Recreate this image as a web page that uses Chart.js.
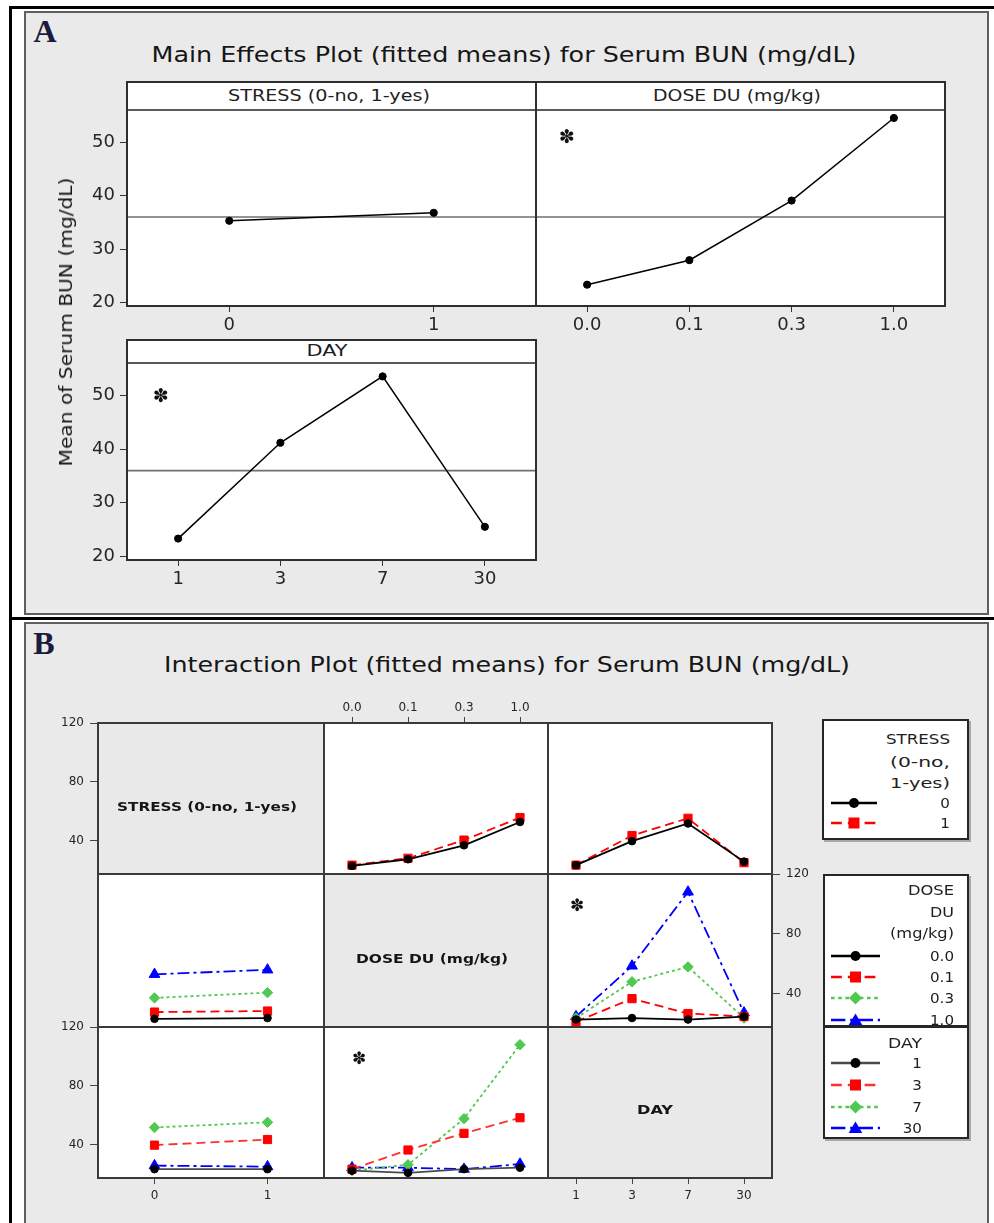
<!DOCTYPE html>
<html>
<head>
<meta charset="utf-8">
<title>Serum BUN: main effects and interactions</title>
<script src="https://cdn.jsdelivr.net/npm/chart.js@4.4.1/dist/chart.umd.min.js"></script>
<style>
  html, body { margin: 0; padding: 0; background: #fff; }
  #page { position: relative; width: 994px; height: 1223px; overflow: hidden; background: #fff; }
  canvas { display: block; }
</style>
</head>
<body>
<div id="page"></div>
<script>
// ---- Factor levels (category tick labels) ----
const stressLevels = ['0', '1'];
const doseLevels = ['0.0', '0.1', '0.3', '1.0'];
const dayLevels = ['1', '3', '7', '30'];

// ---- Main effects: fitted mean serum BUN (mg/dL) per level ----
const bunByStress = [35.3, 36.8];
const bunByDose = [23.3, 27.9, 39.1, 54.6];
const bunByDay = [23.3, 41.2, 53.6, 25.5];
const bunGrandMean = 36.0;

// ---- Two-way fitted means (mg/dL) ----
const bunStress0ByDose = [23.0, 27.5, 37.0, 52.8];
const bunStress1ByDose = [23.5, 28.2, 40.5, 55.8];
const bunStress0ByDay = [23.5, 39.8, 51.8, 25.9];
const bunStress1ByDay = [23.5, 43.6, 55.3, 25.2];
const bunDose00ByDay = [22.5, 23.5, 22.5, 24.5];
const bunDose01ByDay = [21.0, 36.5, 26.5, 24.5];
const bunDose03ByDay = [23.5, 47.8, 57.8, 23.5];
const bunDose10ByDay = [24.5, 58.4, 108.0, 27.0];

// ---- Axis ticks ----
const mainEffectTicks = [20, 30, 40, 50];
const interactionTicks = [40, 80, 120];

// Each interaction appears twice in the matrix, once per orientation
const stressByDose = [bunStress0ByDose, bunStress1ByDose];
const stressByDay = [bunStress0ByDay, bunStress1ByDay];
const doseByDay = [bunDose00ByDay, bunDose01ByDay, bunDose03ByDay, bunDose10ByDay];
const transpose = (rows, n) => Array.from({ length: n }, (_, j) => rows.map(r => r[j]));
const doseByStress = transpose(stressByDose, doseLevels.length);
const dayByStress = transpose(stressByDay, dayLevels.length);
const dayByDose = transpose(doseByDay, dayLevels.length);

// ---- Series styles ----
const GREEN = '#4fc94f';
const stressStyles = [
  { color: '#000000', dash: [], marker: 'circle', r: 3.8 },
  { color: '#ff0000', dash: [9, 5], marker: 'rect', r: 5.8 }
];
const doseStyles = [
  { color: '#000000', dash: [], marker: 'circle', r: 3.8 },
  { color: '#ff0000', dash: [9, 5], marker: 'rect', r: 5.8 },
  { color: GREEN, dash: [3, 3], marker: 'rectRot', r: 5.2 },
  { color: '#0000ff', dash: [12, 4, 3, 4], marker: 'triangle', r: 6.2 }
];
const dayStyles = [
  { color: '#000000', line: '#4a4a4a', dash: [], marker: 'circle', r: 3.8 },
  { color: '#ff0000', line: '#ff3030', dash: [9, 5], marker: 'rect', r: 5.8 },
  { color: GREEN, dash: [3, 3], marker: 'rectRot', r: 5.2 },
  { color: '#0000ff', dash: [12, 4, 3, 4], marker: 'triangle', r: 6.2 }
];
const mainStyle = [{ color: '#000000', dash: [], marker: 'circle', r: 3.6 }];

const FONT = '"DejaVu Sans", "Liberation Sans", sans-serif';
const PANEL_GRAY = '#eaeaea';
const page = document.getElementById('page');
Chart.defaults.font.family = FONT;

// ---- small DOM helpers ----
function rect(x, y, w, h, css) {
  const d = document.createElement('div');
  d.style.cssText = `position:absolute;left:${x}px;top:${y}px;width:${w}px;height:${h}px;box-sizing:border-box;${css || ''}`;
  page.appendChild(d);
  return d;
}
function hline(x1, x2, y, lw, color) { rect(x1 - lw / 2, y - lw / 2, x2 - x1 + lw, lw, `background:${color}`); }
function vline(x, y1, y2, lw, color) { rect(x - lw / 2, y1 - lw / 2, lw, y2 - y1 + lw, `background:${color}`); }

// Text placed by its centre (or right/left edge), optionally stretched to a width
function label(str, o) {
  const s = document.createElement('span');
  s.textContent = str;
  s.style.cssText = 'position:absolute;left:0;top:0;white-space:nowrap;line-height:1;transform-origin:0 0;' +
    `font-family:${o.family || FONT};font-size:${o.size}px;font-weight:${o.weight || 400};color:${o.color || '#1e1e1e'};`;
  page.appendChild(s);
  const bb = s.getBoundingClientRect();
  const w0 = bb.width, h0 = bb.height;
  const sx = o.fit ? o.fit / w0 : (o.sx || 1);
  const w = w0 * sx;
  let cx = o.x;
  if (o.align === 'right') cx = o.x - w / 2;
  if (o.align === 'left') cx = o.x + w / 2;
  s.style.transform = `translate(${cx}px, ${o.y}px) rotate(${o.rot || 0}deg) scale(${sx}, 1) translate(${-w0 / 2}px, ${-h0 / 2}px)`;
  return s;
}

// ---- Chart.js plugin: cell fill, grand-mean reference line, significance mark ----
const cellDecor = {
  id: 'cellDecor',
  beforeDraw(chart, args, o) {
    const { ctx, chartArea: a } = chart;
    ctx.save();
    ctx.fillStyle = o.fill || '#ffffff';
    ctx.fillRect(a.left, a.top, a.right - a.left, a.bottom - a.top);
    ctx.restore();
  },
  beforeDatasetsDraw(chart, args, o) {
    if (o.ref == null) return;
    const { ctx, chartArea: a } = chart;
    const y = chart.scales.y.getPixelForValue(o.ref);
    ctx.save();
    ctx.strokeStyle = '#6f6f6f';
    ctx.lineWidth = 1.6;
    ctx.beginPath();
    ctx.moveTo(a.left, y);
    ctx.lineTo(a.right, y);
    ctx.stroke();
    ctx.restore();
  },
  afterDraw(chart, args, o) {
    if (!o.star) return;
    const { ctx, chartArea: a } = chart;
    ctx.save();
    ctx.fillStyle = '#111';
    ctx.font = `${o.star[2]}px ${FONT}`;
    ctx.textAlign = 'center';
    ctx.textBaseline = 'middle';
    ctx.fillText('\u273D', a.left + o.star[0], a.top + o.star[1]);
    ctx.restore();
  }
};

function lineDataset(values, s, lw) {
  return {
    data: values,
    borderColor: s.line || s.color,
    backgroundColor: s.color,
    borderWidth: lw,
    borderDash: s.dash,
    pointStyle: s.marker,
    pointRadius: s.r,
    pointBorderWidth: 1,
    pointBackgroundColor: s.color,
    pointBorderColor: s.color,
    tension: 0,
    fill: false
  };
}

// One chart per panel cell; the chart area is pinned to the cell rectangle
function cell(spec) {
  const M = 18;
  const t = spec.tick;
  const axW = spec.yAxis ? t.axW : 0;
  const axH = spec.xAxis ? t.axH : 0;
  const padL = M + (spec.yAxis === 'left' ? axW : 0);
  const padR = M + (spec.yAxis === 'right' ? axW : 0);
  const padT = M + (spec.xAxis === 'top' ? axH : 0);
  const padB = M + (spec.xAxis === 'bottom' ? axH : 0);
  const W = spec.w + padL + padR, H = spec.h + padT + padB;
  const cv = document.createElement('canvas');
  cv.width = W; cv.height = H;
  cv.style.cssText = `position:absolute;left:${spec.x - padL}px;top:${spec.y - padT}px;width:${W}px;height:${H}px;`;
  page.appendChild(cv);
  return new Chart(cv.getContext('2d'), {
    type: 'line',
    data: {
      labels: spec.labels,
      datasets: (spec.series || []).map((vals, i) => lineDataset(vals, spec.styles[i], spec.lineWidth))
    },
    options: {
      responsive: false,
      animation: false,
      devicePixelRatio: 1,
      events: [],
      layout: { padding: M },
      plugins: {
        legend: { display: false },
        tooltip: { enabled: false },
        cellDecor: { fill: spec.fill, ref: spec.ref, star: spec.star }
      },
      scales: {
        x: {
          type: 'category',
          offset: true,
          display: !!spec.xAxis,
          position: spec.xAxis || 'bottom',
          border: { display: false },
          grid: { display: true, offset: false, drawOnChartArea: false, drawTicks: true,
                  tickLength: t.xTick, color: t.mark, lineWidth: 1 },
          ticks: { font: { family: FONT, size: t.size }, color: t.text,
                   padding: spec.xAxis === 'top' ? t.xPadTop : t.xPad, autoSkip: false, maxRotation: 0 },
          afterFit: s => { s.height = axH; }
        },
        y: {
          type: 'linear',
          min: spec.yMin,
          max: spec.yMax,
          display: !!spec.yAxis,
          position: spec.yAxis || 'left',
          border: { display: false },
          grid: { display: true, drawOnChartArea: false, drawTicks: true,
                  tickLength: t.yTick, color: t.mark, lineWidth: 1 },
          ticks: { font: { family: FONT, size: t.size }, color: t.text, padding: t.yPad },
          afterBuildTicks: s => { s.ticks = spec.yTicks.map(v => ({ value: v })); },
          afterFit: s => { s.width = axW; }
        }
      }
    },
    plugins: [cellDecor]
  });
}

// ---------------- frame ----------------
rect(24, 11, 965, 604, `background:${PANEL_GRAY};border:2px solid #5e5e5e;`);
rect(24, 622, 965, 620, `background:${PANEL_GRAY};border:2px solid #5e5e5e;`);
rect(9, 6, 985, 3, 'background:#000');
rect(9, 6, 3, 1217, 'background:#000');
rect(9, 617, 985, 3, 'background:#000');

// ---------------- Panel A: main effects ----------------
const tickA = { size: 18, text: '#262626', mark: '#333', axW: 60, axH: 32, xTick: 6, xPad: 3, xPadTop: 2, yTick: 7, yPad: 5 };
const yA = { yMin: 19.3, yMax: 56.1, yTicks: mainEffectTicks };

cell(Object.assign({ x: 127, y: 110, w: 409, h: 196, labels: stressLevels, series: [bunByStress], styles: mainStyle,
  lineWidth: 1.5, xAxis: 'bottom', yAxis: 'left', ref: bunGrandMean, tick: tickA }, yA));
cell(Object.assign({ x: 536, y: 110, w: 409, h: 196, labels: doseLevels, series: [bunByDose], styles: mainStyle,
  lineWidth: 1.5, xAxis: 'bottom', ref: bunGrandMean, star: [31, 28, 19], tick: tickA }, yA));
cell(Object.assign({ x: 127, y: 363, w: 409, h: 197, labels: dayLevels, series: [bunByDay], styles: mainStyle,
  lineWidth: 1.5, xAxis: 'bottom', yAxis: 'left', ref: bunGrandMean, star: [34, 34, 19], tick: tickA }, yA));

// strips and frames of panel A
rect(127, 82, 818, 28, 'background:#fff');
rect(127, 340, 409, 23, 'background:#fff');
const FRAME = '#2e2e2e';
hline(127, 945, 82, 2, FRAME);
hline(127, 945, 306, 2, FRAME);
hline(127, 945, 110, 2.5, '#5a5a5a');
vline(127, 82, 306, 2, FRAME);
vline(536, 82, 306, 2, FRAME);
vline(945, 82, 306, 2, FRAME);
hline(127, 536, 340, 2, FRAME);
hline(127, 536, 560, 2, FRAME);
hline(127, 536, 363, 2.5, '#5a5a5a');
vline(127, 340, 560, 2, FRAME);
vline(536, 340, 560, 2, FRAME);

label('A', { x: 45, y: 31, size: 32, weight: 700, family: '"Liberation Serif", "DejaVu Serif", serif', color: '#1b1b3d' });
label('Main Effects Plot (fitted means) for Serum BUN (mg/dL)', { x: 504, y: 55, size: 22, fit: 705, color: '#161616' });
label('STRESS (0-no, 1-yes)', { x: 329, y: 96, size: 15, fit: 202 });
label('DOSE DU (mg/kg)', { x: 737, y: 96, size: 15, fit: 168 });
label('DAY', { x: 327, y: 351, size: 15, fit: 41 });
label('Mean of Serum BUN (mg/dL)', { x: 66, y: 322, size: 18, fit: 289, rot: -90, color: '#161616' });

// ---------------- Panel B: interaction matrix ----------------
const colX = [98, 324, 548, 772];
const rowY = [723, 874, 1027, 1178];
const tickB = { size: 12, text: '#262626', mark: '#444', axW: 44, axH: 26, xTick: 6, xPad: 5, xPadTop: 2, yTick: 8, yPad: 6 };
const yB = { yMin: 17.5, yMax: 120, yTicks: interactionTicks };
const LABEL_FILL = '#e9e9e9';

function bCell(r, c, extra) {
  return cell(Object.assign({
    x: colX[c], y: rowY[r], w: colX[c + 1] - colX[c], h: rowY[r + 1] - rowY[r],
    lineWidth: 1.8, tick: tickB
  }, yB, extra));
}

// row 1: STRESS traces
bCell(0, 0, { labels: stressLevels, fill: LABEL_FILL, yAxis: 'left' });
bCell(0, 1, { labels: doseLevels, series: stressByDose, styles: stressStyles, xAxis: 'top' });
bCell(0, 2, { labels: dayLevels, series: stressByDay, styles: stressStyles });
// row 2: DOSE traces
bCell(1, 0, { labels: stressLevels, series: doseByStress, styles: doseStyles });
bCell(1, 1, { labels: doseLevels, fill: LABEL_FILL });
bCell(1, 2, { labels: dayLevels, series: doseByDay, styles: doseStyles, yAxis: 'right', star: [29, 33, 17] });
// row 3: DAY traces
bCell(2, 0, { labels: stressLevels, series: dayByStress, styles: dayStyles, xAxis: 'bottom', yAxis: 'left' });
bCell(2, 1, { labels: doseLevels, series: dayByDose, styles: dayStyles, star: [35, 33, 17] });
bCell(2, 2, { labels: dayLevels, fill: LABEL_FILL, xAxis: 'bottom' });

colX.forEach(x => vline(x, rowY[0], rowY[3], 2, '#3a3a3a'));
rowY.forEach(y => hline(colX[0], colX[3], y, 2, '#3a3a3a'));

label('B', { x: 44, y: 643, size: 32, weight: 700, family: '"Liberation Serif", "DejaVu Serif", serif', color: '#1b1b3d' });
label('Interaction Plot (fitted means) for Serum BUN (mg/dL)', { x: 507, y: 665, size: 22, fit: 686, color: '#161616' });
label('STRESS (0-no, 1-yes)', { x: 207, y: 806, size: 13, weight: 700, fit: 180, color: '#151515' });
label('DOSE DU (mg/kg)', { x: 432, y: 958, size: 13, weight: 700, fit: 152, color: '#151515' });
label('DAY', { x: 655, y: 1109, size: 13, weight: 700, fit: 36, color: '#151515' });

// ---------------- legends ----------------
const SVGNS = 'http://www.w3.org/2000/svg';
function svgEl(tag, attrs) {
  const e = document.createElementNS(SVGNS, tag);
  Object.keys(attrs).forEach(k => e.setAttribute(k, attrs[k]));
  return e;
}
function legendSample(s, x1, x2, y) {
  const pad = 8, h = 20, w = x2 - x1 + 2 * pad;
  const svg = svgEl('svg', { width: w, height: h });
  svg.style.cssText = `position:absolute;left:${x1 - pad}px;top:${y - h / 2}px;overflow:visible;`;
  const cy = h / 2, cx = w / 2;
  svg.appendChild(svgEl('line', { x1: pad, y1: cy, x2: w - pad, y2: cy, stroke: s.line || s.color,
    'stroke-width': 2.6, 'stroke-dasharray': s.dash.length ? s.dash.map(v => v * 1.2).join(' ') : 'none' }));
  const fill = s.color;
  if (s.marker === 'circle') svg.appendChild(svgEl('circle', { cx, cy, r: 5, fill }));
  if (s.marker === 'rect') svg.appendChild(svgEl('rect', { x: cx - 5.5, y: cy - 5.5, width: 11, height: 11, fill }));
  if (s.marker === 'rectRot') svg.appendChild(svgEl('polygon', {
    points: `${cx},${cy - 6.5} ${cx + 6.5},${cy} ${cx},${cy + 6.5} ${cx - 6.5},${cy}`, fill }));
  if (s.marker === 'triangle') svg.appendChild(svgEl('polygon', {
    points: `${cx},${cy - 6.5} ${cx + 6.8},${cy + 5} ${cx - 6.8},${cy + 5}`, fill }));
  page.appendChild(svg);
}
function legendBox(x, y, w, h) {
  return rect(x, y, w, h, 'background:#fff;border:2px solid #262626;box-shadow:2px 2px 0 #a8a8a8;');
}
function legend(box, titleLines, titleYs, titleFits, levels, ys, styles, textRight, sx1, sx2) {
  legendBox(box[0], box[1], box[2], box[3]);
  titleLines.forEach((t, i) => label(t, { x: textRight, y: titleYs[i], size: 14, fit: titleFits[i], align: 'right' }));
  levels.forEach((lv, i) => {
    legendSample(styles[i], sx1, sx2, ys[i]);
    label(lv, { x: textRight, y: ys[i], size: 14, sx: 1.08, align: 'right' });
  });
}

legend([822, 719, 147, 121], ['STRESS', '(0-no,', '1-yes)'], [739, 762, 783], [64, 60, 60],
  stressLevels, [803, 823], stressStyles, 950, 831, 877);
legend([823, 874, 146, 153], ['DOSE', 'DU', '(mg/kg)'], [890, 912, 933], [46, 24, 64],
  doseLevels, [956, 977, 998, 1020], doseStyles, 954, 831, 880);
legend([823, 1026, 146, 113], ['DAY'], [1043], [34],
  dayLevels, [1063, 1085, 1107, 1128], dayStyles, 922, 831, 880);
</script>
</body>
</html>
